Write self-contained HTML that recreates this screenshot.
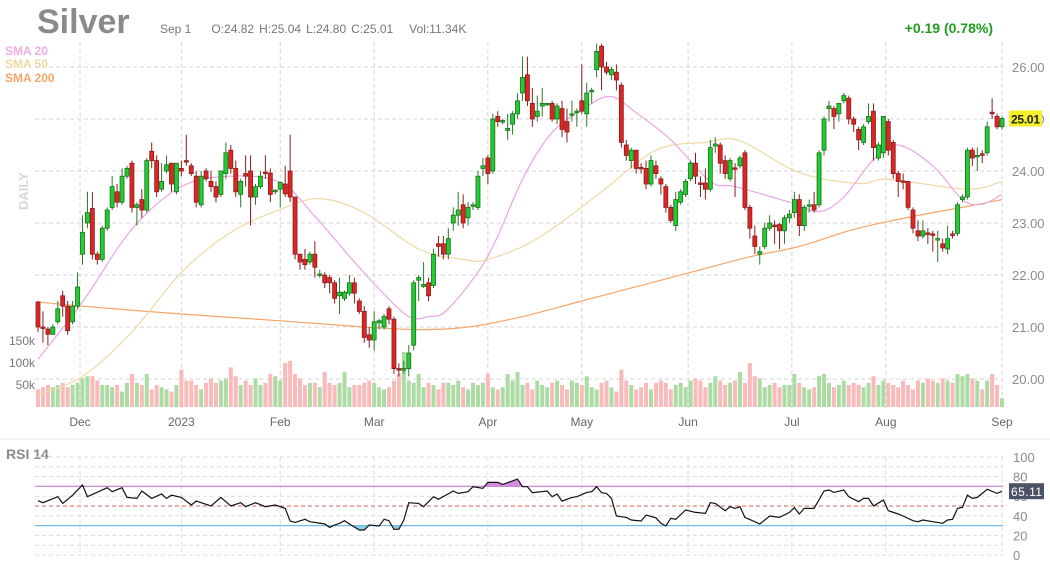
<!DOCTYPE html>
<html><head><meta charset="utf-8">
<style>
body{margin:0;background:#fff;width:1050px;height:569px;overflow:hidden;font-family:"Liberation Sans",sans-serif;}
svg{position:absolute;left:0;top:0;}
</style></head>
<body>
<svg id="chart" width="1050" height="569" xmlns="http://www.w3.org/2000/svg">
  <text x="37" y="33" font-size="34" font-weight="bold" fill="#8a8a8a">Silver</text>
  <text x="160" y="33" font-size="12" fill="#777">Sep 1<tspan dx="20">O:24.82</tspan><tspan dx="5">H:25.04</tspan><tspan dx="5">L:24.80</tspan><tspan dx="5">C:25.01</tspan><tspan dx="16">Vol:11.34K</tspan></text>
  <text x="993" y="33" font-size="14" font-weight="bold" fill="#1e9c1e" text-anchor="end">+0.19 (0.78%)</text>
  <text x="5" y="55" font-size="12" font-weight="bold" fill="#eeaee6">SMA 20</text>
  <text x="5" y="68" font-size="12" font-weight="bold" fill="#ecd89e">SMA 50</text>
  <text x="5" y="82" font-size="12" font-weight="bold" fill="#f5a56a">SMA 200</text>
  <text x="0" y="0" font-size="13" font-weight="bold" fill="#d8d8d8" transform="translate(28,210) rotate(-90)">DAILY</text>
  <text x="6" y="459" font-size="14" font-weight="bold" fill="#8a8a8a">RSI 14</text>
  <g id="grid"></g><g id="vol"></g><g id="sma"></g><g id="candles"></g><g id="rsi"></g><g id="labels"></g>
</svg>
<script>
const opens=[21.48,21.0,20.96,20.86,21.1,21.6,21.4,21.1,21.4,22.4,23.0,23.28,22.4,22.3,22.9,23.3,23.6,23.4,23.9,24.15,23.3,23.45,23.25,24.38,24.2,23.65,24.0,24.15,23.6,24.05,24.2,24.1,23.9,23.35,24.0,23.8,23.7,23.55,23.95,24.4,24.05,23.55,23.95,24.0,23.5,23.7,23.98,23.96,23.6,23.65,23.75,24.0,23.5,22.4,22.3,22.25,22.4,22.0,22.0,21.95,21.85,21.6,21.55,21.65,21.85,21.5,21.3,20.85,20.75,21.08,
21.0,21.35,21.15,20.2,20.17,20.2,20.65,21.9,21.78,21.85,21.8,22.6,22.6,22.4,23.0,23.15,23.35,23.1,23.33,23.3,24.05,24.25,24.0,25.05,24.95,24.78,24.9,25.1,25.5,25.85,25.3,25.05,25.25,25.28,25.3,25.0,25.2,24.95,25.08,25.13,25.35,25.1,25.53,25.95,26.4,26.0,25.85,25.9,25.65,24.5,24.2,24.4,24.07,24.05,23.75,24.1,23.85,23.7,23.3,22.95,23.4,23.55,23.85,24.15,23.77,
23.77,23.65,24.48,24.5,24.2,23.85,24.06,24.1,24.35,23.3,22.75,22.4,22.55,22.9,22.96,22.97,22.85,23.1,23.2,23.45,22.95,23.33,23.35,23.35,24.4,25.2,25.2,25.1,25.35,25.4,25.0,24.8,24.55,24.95,25.15,24.25,24.35,24.95,24.55,23.95,23.81,23.8,23.25,22.85,22.75,22.81,22.79,22.69,22.6,22.5,22.79,22.8,23.45,23.5,24.4,24.29,24.33,24.35,25.13,25.05,24.85];
const closes=[21.0,20.98,20.86,21.0,21.35,21.4,20.93,21.4,21.77,22.82,23.2,22.4,22.3,22.9,23.25,23.7,23.4,23.9,24.05,23.3,23.35,23.25,24.2,24.2,23.6,23.8,24.12,23.75,24.15,24.0,24.18,23.95,23.4,23.9,23.85,23.7,23.5,24.0,24.35,24.05,23.6,23.8,23.9,23.5,23.7,23.9,23.96,23.55,23.63,23.78,23.56,23.5,22.4,22.25,22.2,22.4,22.15,22.02,21.85,21.85,21.55,21.67,21.67,21.85,21.65,21.3,20.8,20.75,21.1,21.12,
21.2,21.15,20.2,20.17,20.2,20.5,21.85,21.95,21.82,21.6,22.4,22.55,22.4,22.7,23.15,23.25,23.0,23.3,23.35,23.9,24.1,23.95,25.0,24.95,24.97,24.82,25.1,25.35,25.8,25.35,25.0,25.15,25.3,25.3,25.0,25.25,24.8,24.75,25.1,25.15,25.15,25.5,25.55,26.3,26.0,25.9,25.95,25.75,24.55,24.3,24.4,24.05,24.05,23.75,24.2,23.95,23.75,23.3,23.05,23.45,23.6,23.8,24.15,23.9,23.75,
23.65,24.45,24.52,24.15,23.95,24.2,24.04,24.25,23.3,22.9,22.55,22.45,22.9,23.0,22.94,22.85,23.1,23.17,23.45,22.95,23.3,23.35,23.25,24.35,25.0,25.25,25.05,25.3,25.45,25.0,24.9,24.6,24.85,25.05,24.45,24.5,25.05,24.4,23.95,23.8,23.8,23.3,22.9,22.75,22.85,22.8,22.78,22.7,22.52,22.7,22.78,23.35,23.5,24.4,24.25,24.3,24.32,24.85,25.12,24.85,25.01];
const highs=[21.5,21.3,21.0,21.05,21.5,21.7,21.5,21.5,22.05,23.15,23.6,23.6,22.45,22.95,23.3,23.9,23.75,24.05,24.1,24.2,23.4,23.65,24.25,24.55,24.3,24.15,24.3,24.15,24.15,24.2,24.7,24.15,24.0,24.0,24.05,24.0,23.8,24.0,24.55,24.5,24.2,23.85,24.3,24.3,23.75,24.0,24.3,24.05,23.65,23.8,24.1,24.7,23.5,22.4,22.5,22.45,22.65,22.1,22.05,22.0,21.9,21.95,21.7,22.0,21.95,21.55,21.4,21.0,21.3,21.15,
21.25,21.4,21.2,20.3,20.35,20.65,21.9,22.0,22.25,21.95,22.5,22.75,22.75,22.9,23.3,23.6,23.55,23.4,23.4,24.0,24.25,24.3,25.1,25.15,25.0,25.1,25.15,25.5,26.2,26.2,25.6,25.45,25.6,25.3,25.35,25.3,25.35,25.2,25.35,25.2,26.05,25.7,25.6,26.45,26.45,26.1,26.0,26.05,25.7,24.6,24.45,24.4,24.15,24.2,24.3,24.2,23.9,23.75,23.35,23.6,23.65,23.85,24.2,24.35,23.9,
24.05,24.6,24.65,24.55,24.3,24.25,24.15,24.3,24.4,23.35,22.95,22.55,23.0,23.15,23.05,23.0,23.15,23.25,23.6,23.55,23.35,23.45,23.6,24.4,25.05,25.35,25.25,25.3,25.5,25.45,25.05,24.85,24.9,25.3,25.3,24.55,25.0,25.0,24.6,24.0,23.95,23.8,23.3,23.05,23.05,22.9,22.85,22.85,22.7,22.95,22.85,23.4,23.55,24.45,24.45,24.45,24.4,24.95,25.4,25.1,25.05];
const lows=[20.9,20.7,20.65,20.85,21.05,21.2,20.85,21.05,21.35,22.2,22.9,22.3,22.2,22.25,22.85,23.25,23.3,23.35,23.85,23.2,22.95,23.1,23.2,24.05,23.5,23.6,23.95,23.6,23.55,23.9,24.1,23.9,23.3,23.3,23.8,23.6,23.4,23.5,23.85,23.95,23.5,23.3,23.7,22.95,23.35,23.65,23.85,23.4,23.55,23.3,23.5,23.4,22.3,22.1,22.1,22.2,21.95,21.95,21.75,21.65,21.45,21.25,21.5,21.6,21.45,21.25,20.7,20.6,20.55,20.95,
20.95,21.05,20.1,20.05,20.1,20.05,20.55,21.5,21.75,21.5,21.75,22.35,22.3,22.3,22.85,22.95,22.9,22.95,23.25,23.25,23.9,23.75,23.95,24.85,24.9,24.6,24.7,25.0,25.35,25.25,24.85,24.95,25.05,25.25,24.95,24.9,24.65,24.55,24.95,24.85,25.1,24.85,25.3,25.8,25.55,25.85,25.75,25.55,24.45,24.2,24.05,23.95,23.95,23.65,23.7,23.85,23.55,23.2,23.0,22.85,23.35,23.5,23.8,23.75,23.5,
23.45,23.6,24.35,23.95,23.85,23.8,23.5,24.05,23.25,22.7,22.4,22.2,22.5,22.85,22.6,22.5,22.6,23.0,23.1,22.75,22.85,23.2,23.2,23.3,24.3,24.95,24.8,24.95,25.3,24.9,24.75,24.4,24.5,24.9,24.2,24.2,24.25,24.3,23.85,23.5,23.65,23.25,22.8,22.65,22.7,22.6,22.45,22.25,22.45,22.4,22.7,22.75,23.4,23.45,24.1,24.0,24.15,24.3,25.0,24.8,24.8];
const volumes=[40,45,50,45,50,55,45,50,55,65,70,70,60,50,50,45,50,35,55,75,55,50,75,40,50,45,40,35,50,85,60,60,50,40,55,65,55,60,65,90,70,50,60,50,65,50,55,75,70,60,100,105,75,65,50,55,55,45,80,55,50,55,80,45,50,50,55,60,55,45,
40,45,60,75,125,60,55,75,45,55,50,40,55,55,50,60,45,40,55,50,55,75,45,40,45,75,60,80,50,55,40,60,50,45,55,60,50,40,60,55,50,70,45,40,55,60,45,35,85,60,50,40,45,55,40,55,60,55,40,50,55,45,60,65,60,
45,55,70,60,50,55,60,80,55,100,70,65,45,50,55,45,50,50,75,55,45,40,45,70,75,55,45,50,60,50,55,50,45,55,70,50,60,55,50,45,60,50,40,60,55,65,60,55,65,60,55,75,70,75,65,60,40,60,75,50,20];
const sma20Day=[0,9,19,29,39,49,56,63,69,75,79,83,91,98,104,111,116,121,128,136,141,152,158,163,169,174,181,187,191,195];
const sma20Val=[20.38,21.48,22.88,23.7,23.9,23.78,23.13,22.36,21.73,21.2,21.2,21.35,22.36,23.84,24.74,25.24,25.43,25.12,24.6,23.8,23.7,23.4,23.22,23.5,24.22,24.5,24.1,23.45,23.36,23.55];
const sma50Day=[0,9,19,29,39,49,57,66,77,86,91,101,114,125,135,142,154,166,172,188,195];
const sma50Val=[19.7,20.05,20.9,22.05,22.82,23.26,23.47,23.2,22.5,22.3,22.3,22.7,23.6,24.4,24.55,24.58,23.97,23.76,23.84,23.65,23.8];
const sma200Day=[0,9,29,49,66,77,87,98,110,122,134,144,154,164,172,181,187,195];
const sma200Val=[21.48,21.4,21.25,21.12,21.0,20.95,21.0,21.2,21.5,21.8,22.1,22.35,22.55,22.85,23.03,23.2,23.3,23.45];
const rsiDay=[0,1,4,5,7,9,10,14,15,17,18,20,21,23,25,26,27,29,31,32,35,37,39,41,42,44,46,48,50,51,52,54,55,58,59,60,61,62,63,65,66,67,69,70,71,72,73,74,75,77,78,80,81,84,85,87,88,90,91,93,94,95,97,98,
99,100,103,104,105,106,108,109,111,112,113,114,115,116,117,119,120,122,123,125,126,127,128,129,131,133,135,136,137,139,140,141,142,143,145,146,148,150,152,153,154,155,157,159,160,161,163,164,166,167,168,169,171,172,174,175,177,178,179,181,183,184,185,186,187,188,189,190,192,194,195];
const rsiVal=[55.4,53.4,59.5,52.7,61,71.4,59.5,68.7,64.6,68.7,58.8,57.8,65.3,57.8,62.2,57.8,61,58.8,51,55,50,58.8,50,53.4,49.3,53.4,49.3,51,47.6,34.7,33.3,36.4,34,31.6,28.2,30.6,32.3,35,31.6,25.5,25.5,30.6,29.6,36.4,35,26.2,26.2,35.7,53.4,52.7,49.3,59.5,56.8,65.3,62.9,64.6,69.7,68,74.1,74.1,72,73.8,77.5,69.7,
69.7,63.6,65.3,59.5,62.2,55,58.8,59.5,63.9,64.6,69.7,63.6,62.9,57.8,39.8,38.4,35.7,34.7,40.8,38,32.3,29.6,37.4,36.4,45.9,43.5,42.5,53.4,52.7,45.2,49.3,47.6,49.3,38.4,34,31.6,39.8,38.4,43.5,48.3,41.8,47.6,47.6,65.3,66.3,63.9,66.3,59.5,54.4,57.8,57.8,50,56.1,45.2,41.8,39.8,35,34,35.7,34,32.3,35.7,36.4,47.6,48.6,61,57.8,58.8,67,62.9,65.11];
const priceTicks=[20,21,22,23,24,25,26];
const volTicks=[50,100,150];
const rsiTicks=[0,20,40,60,80,100];
const monthLabels=["Dec","2023","Feb","Mar","Apr","May","Jun","Jul","Aug","Sep"];
const monthDay=[8.5,29,49,68,91,110,131.5,152.5,171.5,195];

const NS="http://www.w3.org/2000/svg";
const X0=38,X1=1002,n=closes.length;
const xs=i=>X0+i*(X1-X0)/(n-1);
const py=p=>379-(p-20)*52;
const vy=v=>407-v*0.44;
const ry=v=>555-v*0.98;
function mk(tag,attrs,parent){const e=document.createElementNS(NS,tag);for(const k in attrs)e.setAttribute(k,attrs[k]);parent.appendChild(e);return e;}
const G=id=>document.getElementById(id);

const grid=G('grid');
priceTicks.forEach(p=>{const l=mk('line',{x1:35,x2:1003,y1:py(p),y2:py(p),stroke:'#d4d4d4','stroke-dasharray':'4,3'},grid);

});
for(let v=0;v<=100;v+=10){const l=mk('line',{x1:35,x2:1003,y1:ry(v),y2:ry(v),stroke:'#dcdcdc','stroke-dasharray':'4,3'},grid);

}
monthDay.forEach(d=>{const x=xs(d);
const a=mk('line',{x1:x,x2:x,y1:42,y2:408,stroke:'#d4d4d4','stroke-dasharray':'4,3'},grid);


const b=mk('line',{x1:x,x2:x,y1:457,y2:556,stroke:'#dcdcdc','stroke-dasharray':'4,3'},grid);

});
const sep=mk('line',{x1:0,x2:1050,y1:439,y2:439,stroke:'#e6e6e6'},grid);



const vol=G('vol');
volumes.forEach((v,i)=>{const up=closes[i]>=opens[i];
const r=mk('rect',{x:xs(i)-2,y:vy(v),width:4,height:407-vy(v),fill:up?'#acdca4':'#f8baba'},vol);

});

const sma=G('sma');
function smooth(pts){let d='M'+pts[0][0].toFixed(1)+','+pts[0][1].toFixed(1);
for(let i=0;i<pts.length-1;i++){const p0=pts[Math.max(0,i-1)],p1=pts[i],p2=pts[i+1],p3=pts[Math.min(pts.length-1,i+2)];
const c1x=p1[0]+(p2[0]-p0[0])/6,c1y=p1[1]+(p2[1]-p0[1])/6,c2x=p2[0]-(p3[0]-p1[0])/6,c2y=p2[1]-(p3[1]-p1[1])/6;
d+=`C${c1x.toFixed(1)},${c1y.toFixed(1)} ${c2x.toFixed(1)},${c2y.toFixed(1)} ${p2[0].toFixed(1)},${p2[1].toFixed(1)}`;}
return d;}
function line(days,vals,color,name){const pts=days.map((dd,k)=>[xs(dd),py(vals[k])]);
const p=mk('path',{d:smooth(pts),fill:'none',stroke:color,'stroke-width':1.2},sma);

}
line(sma200Day,sma200Val,'#f5a56a','sma200-line');
line(sma50Day,sma50Val,'#efd9a6','sma50-line');
line(sma20Day,sma20Val,'#eaa6e2','sma20-line');

const cg=G('candles');
closes.forEach((c,i)=>{const o=opens[i],up=c>=o,x=xs(i);
const w=mk('line',{x1:x,x2:x,y1:py(highs[i]),y2:py(lows[i]),stroke:up?'#2a7a2a':'#8a1c1c','stroke-width':1},cg);


const top=py(Math.max(o,c)),h=Math.max(1.5,Math.abs(py(o)-py(c)));
const b=mk('rect',{x:x-2,y:top,width:4,height:h,fill:up?'#22cc33':'#dd2626',stroke:up?'#1a6e1a':'#8a1c1c','stroke-width':0.8},cg);

});

const rg=G('rsi');
const defs=mk('defs',{},rg);
const c1=mk('clipPath',{id:'above70'},defs);mk('rect',{x:0,y:0,width:1050,height:ry(70)},c1);
const c2=mk('clipPath',{id:'below30'},defs);mk('rect',{x:0,y:ry(30),width:1050,height:100},c2);
const rp=rsiDay.map((d,k)=>(k?'L':'M')+xs(d).toFixed(1)+','+ry(rsiVal[k]).toFixed(1)).join('');
const fa=mk('path',{d:rp+`L${xs(rsiDay[rsiDay.length-1])},${ry(70)}L${xs(0)},${ry(70)}Z`,fill:'#d78ce0','clip-path':'url(#above70)'},rg);


const fb=mk('path',{d:rp+`L${xs(rsiDay[rsiDay.length-1])},${ry(30)}L${xs(0)},${ry(30)}Z`,fill:'#8fd0ec','clip-path':'url(#below30)'},rg);


[[70,'#c58ad0',''],[50,'#e08080','4,3'],[30,'#6ec0e0','']].forEach(([v,col,da])=>{
const l=mk('line',{x1:35,x2:1003,y1:ry(v),y2:ry(v),stroke:col,'stroke-width':1.2,'stroke-dasharray':da},rg);

});
const rl=mk('path',{d:rp,fill:'none',stroke:'#111','stroke-width':1.2},rg);



const lg=G('labels');
priceTicks.forEach(p=>{const t=mk('text',{x:1012,y:py(p)+5,'font-size':13,fill:'#8c8c8c'},lg);t.textContent=p.toFixed(2);

});
volTicks.forEach(v=>{const t=mk('text',{x:35,y:vy(v)+4,'font-size':12,fill:'#777','text-anchor':'end'},lg);t.textContent=v+'k';

});
rsiTicks.forEach(v=>{const t=mk('text',{x:1013,y:ry(v)+5,'font-size':13,fill:'#8c8c8c'},lg);t.textContent=v;

});
monthLabels.forEach((m,k)=>{const t=mk('text',{x:xs(monthDay[k]),y:426,'font-size':12,fill:'#666','text-anchor':'middle'},lg);t.textContent=m;

});
const last=closes[n-1];
const pb=mk('rect',{x:1009,y:py(last)-8,width:33,height:16,fill:'#f5f02a'},lg);


const pt=mk('text',{x:1011,y:py(last)+5,'font-size':12,'font-weight':'bold',fill:'#222',textLength:29},lg);pt.textContent=last.toFixed(2);


const lr=rsiVal[rsiVal.length-1];
const rb=mk('rect',{x:1009,y:ry(lr)-8,width:35,height:16,fill:'#4d5366'},lg);


const rt=mk('text',{x:1011,y:ry(lr)+5,'font-size':12,fill:'#fff',textLength:31},lg);rt.textContent=lr.toFixed(2);


</script>
</body></html>
